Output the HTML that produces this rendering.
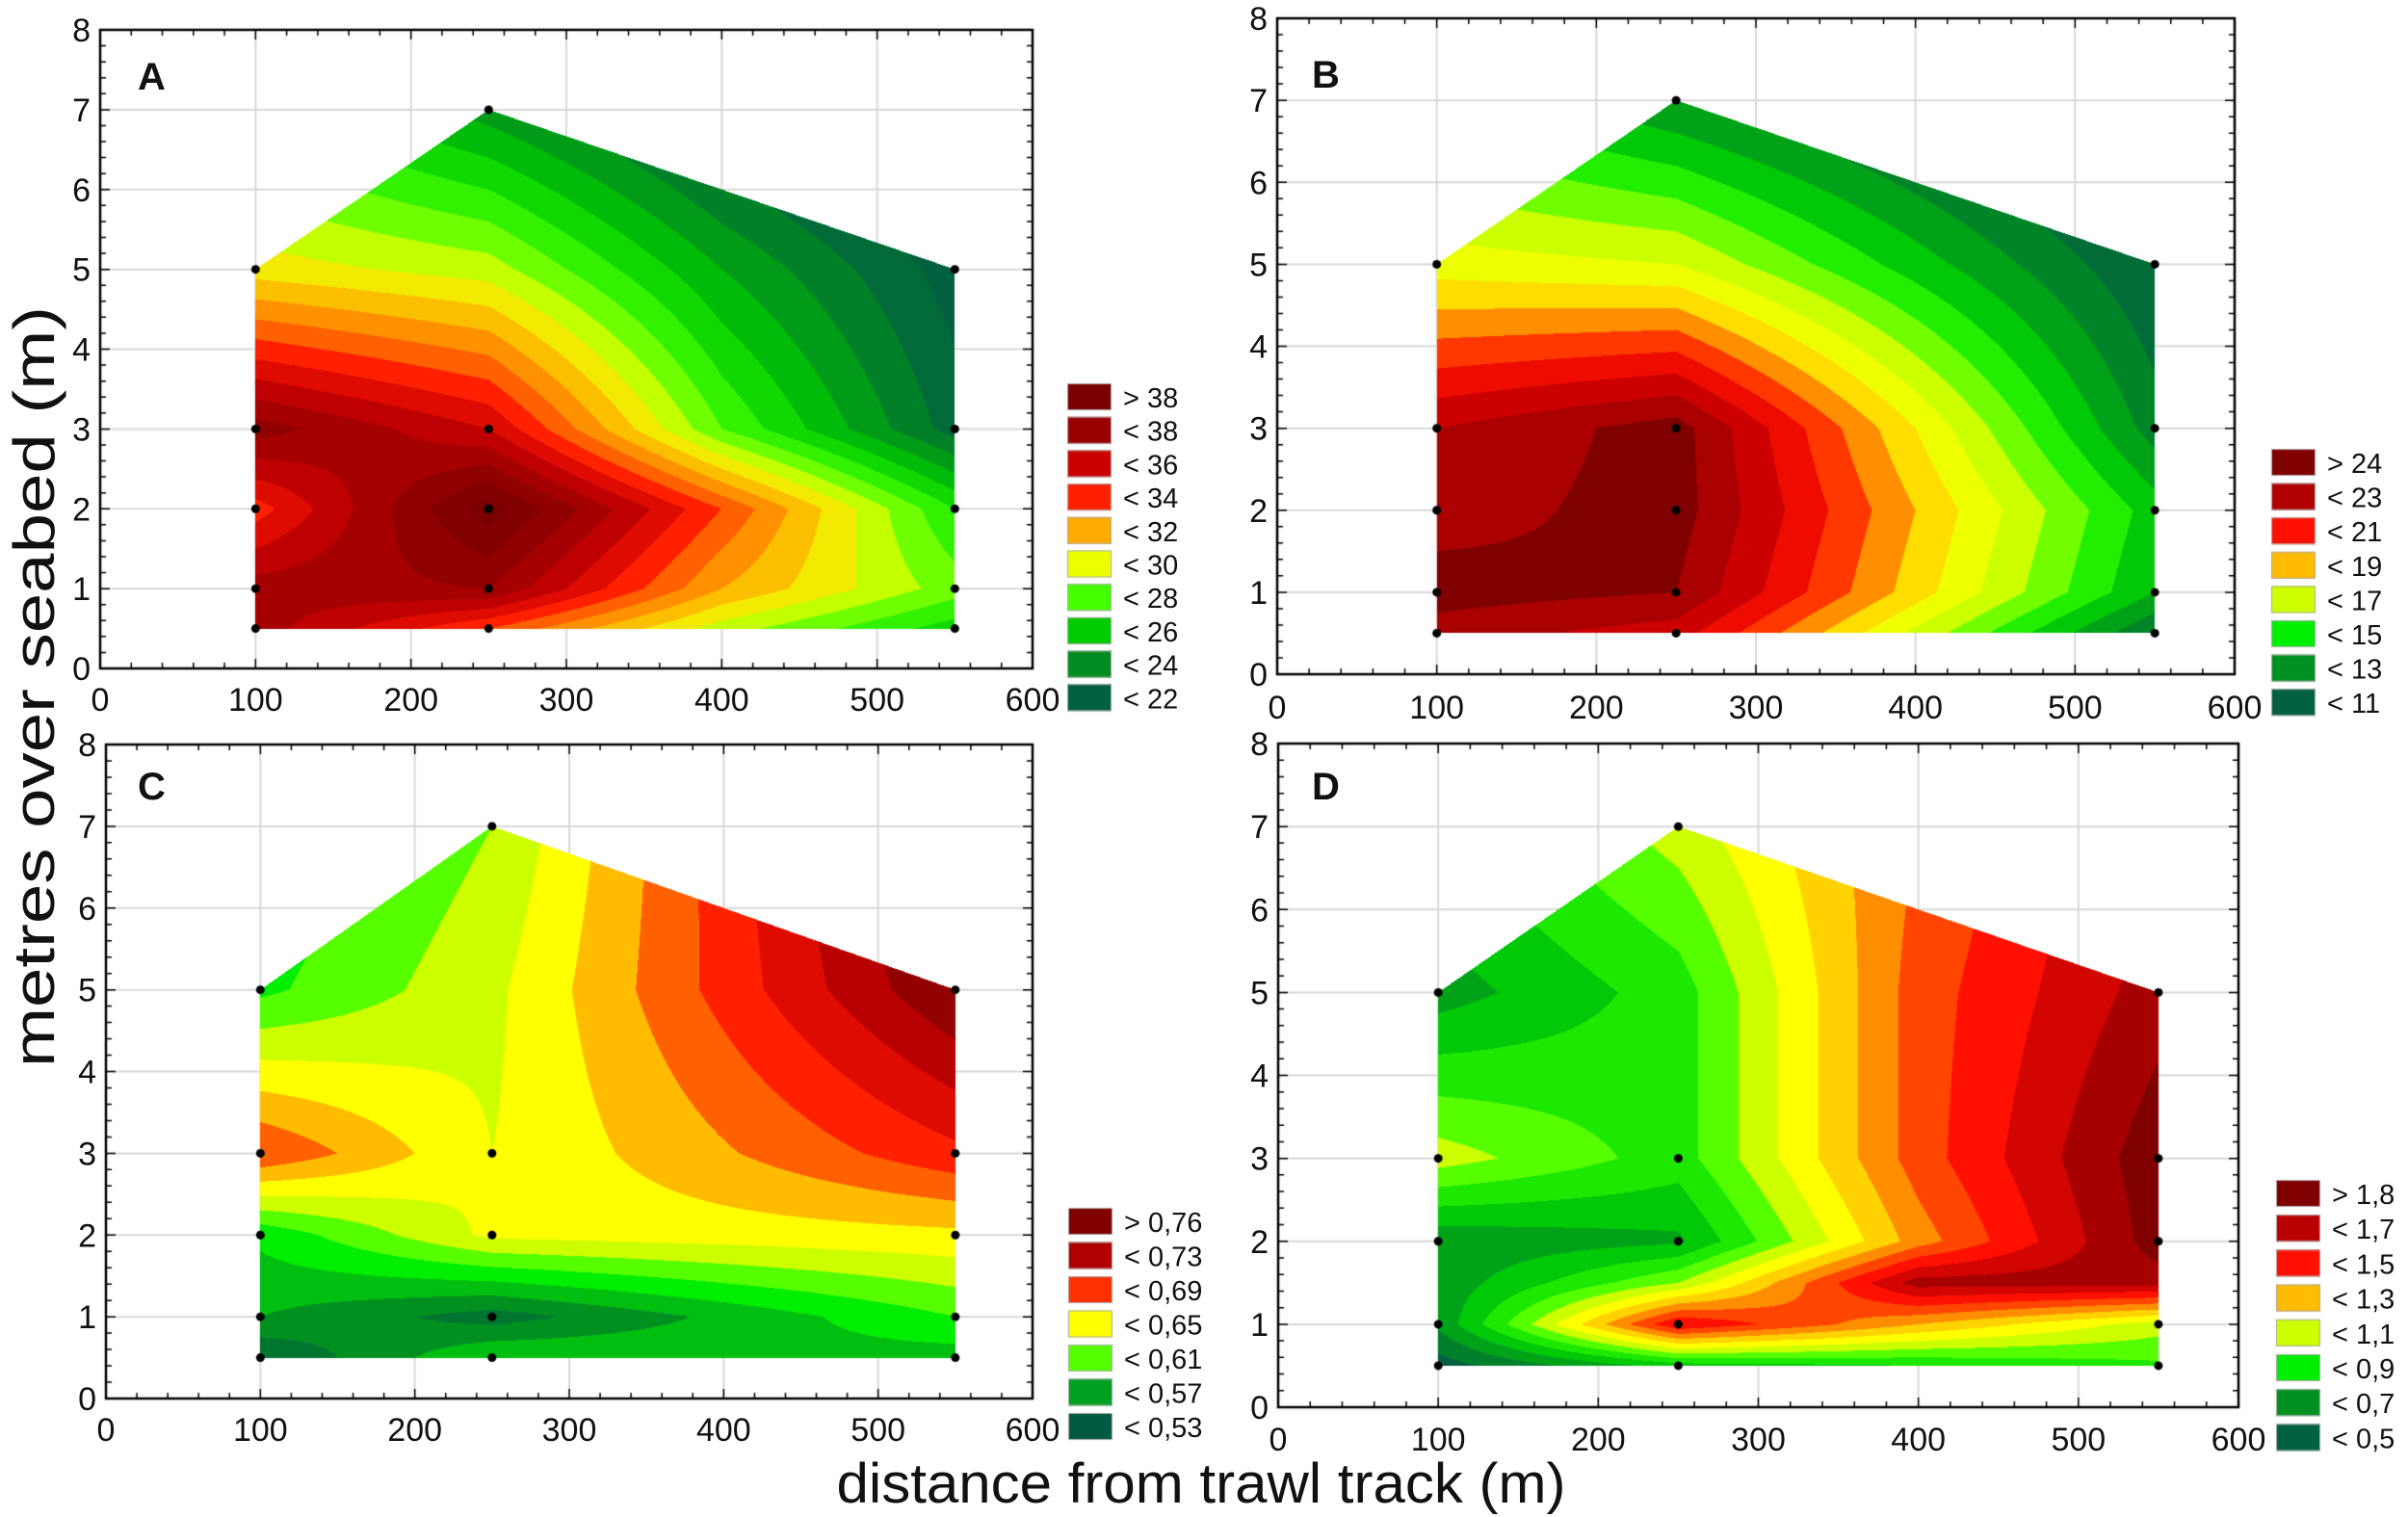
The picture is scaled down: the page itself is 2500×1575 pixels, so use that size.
<!DOCTYPE html>
<html><head><meta charset="utf-8">
<style>
html,body{margin:0;padding:0;background:#fff;}
#wrap{position:relative;width:2500px;height:1575px;overflow:hidden;}
canvas{position:absolute;left:0;top:0;}
svg{position:absolute;left:0;top:0;}
text{font-family:"Liberation Sans",sans-serif;fill:#111;}
</style></head>
<body><div id="wrap">
<canvas id="c" width="2500" height="1575"></canvas>
<svg width="2500" height="1575" viewBox="0 0 2500 1575" id="s">
<text x="0" y="0" transform="translate(56,713) rotate(-90)" text-anchor="middle" font-size="60" textLength="790" lengthAdjust="spacingAndGlyphs">metres over seabed (m)</text>
<text x="1247" y="1560" text-anchor="middle" font-size="58" textLength="757" lengthAdjust="spacingAndGlyphs">distance from trawl track (m)</text>
</svg>
</div>
<script>
function hex(c){return [parseInt(c.substr(1,2),16),parseInt(c.substr(3,2),16),parseInt(c.substr(5,2),16)];}
const panels=[
 {L:104,R:1072,T:31,B:694,letter:'A',lx:143,ly:93,
  X:[100,250,400,550],Y:[0.5,1,2,3,5,7],
  V:[[36.5,36.5,33.5,37.5,29.5,26],[33,37,39.5,35,28.5,23.5],[28.5,31,33,27,24,20.5],[25.5,27.5,26,21.5,20.5,18.5]],
  anchors:[[21,'#006040'],[23,'#008c20'],[25,'#00cc00'],[27,'#44ff00'],[29,'#eeff00'],[31,'#ffaa00'],[32.5,'#ff6000'],[33.5,'#ff2000'],[35,'#cc0000'],[37,'#990000'],[39,'#7a0000']],step:1,
  leg:{x:1108,y:398,p:34.7,items:[['> 38','#7a0000'],['< 38','#990000'],['< 36','#cc0000'],['< 34','#ff2000'],['< 32','#ffaa00'],['< 30','#eeff00'],['< 28','#44ff00'],['< 26','#00cc00'],['< 24','#008c20'],['< 22','#006040']]},xlab:44},
 {L:1326,R:2320,T:19,B:700,letter:'B',lx:1362,ly:91,
  X:[100,250,550],Y:[0.5,1,2,3,5,7],
  V:[[23.5,24.5,23.5,23,17.5,14],[22.5,24,24.5,24.5,17,12],[11,13,13.5,11.5,10,8]],
  anchors:[[10,'#006040'],[12,'#009020'],[14,'#00dd00'],[15,'#44ff00'],[16.5,'#ccff00'],[18,'#ffff00'],[19,'#ffbb00'],[20,'#ff6000'],[21,'#ff1000'],[22.5,'#cc0000'],[23.5,'#aa0000'],[24.5,'#800000']],step:1,
  leg:{x:2358,y:466,p:35.6,items:[['> 24','#800000'],['< 23','#b00000'],['< 21','#ff1000'],['< 19','#ffbb00'],['< 17','#ccff00'],['< 15','#00ee00'],['< 13','#009020'],['< 11','#006040']]},xlab:46},
 {L:110,R:1072,T:773,B:1452,letter:'C',lx:143,ly:830,
  X:[100,250,550],Y:[0.5,1,2,3,5,7],
  V:[[0.52,0.56,0.585,0.70,0.595,0.58],[0.58,0.53,0.645,0.64,0.635,0.62],[0.57,0.60,0.655,0.715,0.78,0.80]],
  anchors:[[0.51,'#005a40'],[0.55,'#009020'],[0.59,'#00ee00'],[0.61,'#55ff00'],[0.63,'#ccff00'],[0.65,'#ffff00'],[0.67,'#ffbb00'],[0.69,'#ff6000'],[0.71,'#ff2000'],[0.74,'#cc0000'],[0.78,'#800000']],step:0.02,
  leg:{x:1109,y:1254,p:35.5,items:[['> 0,76','#800000'],['< 0,73','#b00000'],['< 0,69','#ff3000'],['< 0,65','#ffff00'],['< 0,61','#55ff00'],['< 0,57','#00a020'],['< 0,53','#005a40']]},xlab:44},
 {L:1327,R:2324,T:772,B:1461,letter:'D',lx:1362,ly:830,
  X:[100,250,400,550],Y:[0.5,1,1.5,2,3,5,7],
  V:[[0.45,0.62,0.63,0.62,1.05,0.65,0.8],[0.75,1.6,1.0,0.68,0.85,0.85,1.05],[0.8,1.3,1.75,1.35,1.45,1.45,1.4],[0.88,1.05,1.75,1.85,1.87,1.75,1.7]],
  anchors:[[0.45,'#006040'],[0.6,'#009020'],[0.8,'#00dd00'],[0.95,'#55ff00'],[1.05,'#ccff00'],[1.15,'#ffff00'],[1.3,'#ffbb00'],[1.4,'#ff6000'],[1.55,'#ff1000'],[1.7,'#bb0000'],[1.85,'#800000']],step:0.1,
  leg:{x:2363,y:1225,p:36.2,items:[['> 1,8','#800000'],['< 1,7','#bb0000'],['< 1,5','#ff1000'],['< 1,3','#ffbb00'],['< 1,1','#ccff00'],['< 0,9','#00ee00'],['< 0,7','#009020'],['< 0,5','#006040']]},xlab:45}
];
const cv=document.getElementById('c'),ctx=cv.getContext('2d');
ctx.fillStyle='#fff';ctx.fillRect(0,0,2500,1575);
function px(p,x){return p.L+x/600*(p.R-p.L);}
function py(p,y){return p.B-y/8*(p.B-p.T);}
ctx.strokeStyle='#d9d9d9';ctx.lineWidth=2;
panels.forEach(p=>{
 for(let x=100;x<600;x+=100){ctx.beginPath();ctx.moveTo(px(p,x),p.T);ctx.lineTo(px(p,x),p.B);ctx.stroke();}
 for(let y=1;y<8;y++){ctx.beginPath();ctx.moveTo(p.L,py(p,y));ctx.lineTo(p.R,py(p,y));ctx.stroke();}
});
const img=ctx.getImageData(0,0,2500,1575),d=img.data;
function interp(p,x,y){
 const X=p.X,Y=p.Y;let i=0,j=0;
 while(i<X.length-2&&x>X[i+1])i++;
 while(j<Y.length-2&&y>Y[j+1])j++;
 const tx=Math.max(0,Math.min(1,(x-X[i])/(X[i+1]-X[i]))),ty=Math.max(0,Math.min(1,(y-Y[j])/(Y[j+1]-Y[j])));
 const a=p.V[i][j],b=p.V[i+1][j],c=p.V[i][j+1],e=p.V[i+1][j+1];
 return a*(1-tx)*(1-ty)+b*tx*(1-ty)+c*(1-tx)*ty+e*tx*ty;
}
function color(p,v){
 v=(Math.floor(v/p.step)+0.5)*p.step;
 const A=p.anchors;
 if(v<=A[0][0])return hex(A[0][1]);
 if(v>=A[A.length-1][0])return hex(A[A.length-1][1]);
 for(let k=0;k<A.length-1;k++){if(v<=A[k+1][0]){const t=(v-A[k][0])/(A[k+1][0]-A[k][0]);const c1=hex(A[k][1]),c2=hex(A[k+1][1]);return [0,1,2].map(q=>Math.round(c1[q]+(c2[q]-c1[q])*t));}}
}
panels.forEach(p=>{
 const x0=Math.floor(px(p,100)),x1=Math.ceil(px(p,550)),y0=Math.floor(py(p,7)),y1=Math.ceil(py(p,0.5));
 for(let Y=y0;Y<=y1;Y++)for(let X=x0;X<=x1;X++){
  const x=(X+0.5-p.L)/(p.R-p.L)*600,y=(p.B-(Y+0.5))/(p.B-p.T)*8;
  if(x<100||x>550||y<0.5)continue;
  const top=x<=250?5+(x-100)/150*2:7-(x-250)/300*2;
  if(y>top)continue;
  const c=color(p,interp(p,x,y));const o=(Y*2500+X)*4;d[o]=c[0];d[o+1]=c[1];d[o+2]=c[2];d[o+3]=255;
 }
});
ctx.putImageData(img,0,0);
const S=document.getElementById('s'),NS='http://www.w3.org/2000/svg';
function T(x,y,s,opt){const t=document.createElementNS(NS,'text');t.setAttribute('x',x);t.setAttribute('y',y);t.textContent=s;for(const k in opt)t.setAttribute(k,opt[k]);S.appendChild(t);}
panels.forEach(p=>{
 ctx.strokeStyle='#000';ctx.lineWidth=2.5;ctx.strokeRect(p.L,p.T,p.R-p.L,p.B-p.T);
 ctx.lineWidth=1.5;
 for(let x=0;x<=600;x+=20){const X=px(p,x),l=x%100==0?10:6;ctx.beginPath();ctx.moveTo(X,p.B);ctx.lineTo(X,p.B-l);ctx.moveTo(X,p.T);ctx.lineTo(X,p.T+l);ctx.stroke();}
 for(let y=0;y<=8;y+=0.2){const Y=py(p,y),l=Math.abs(y-Math.round(y))<0.01?10:6;ctx.beginPath();ctx.moveTo(p.L,Y);ctx.lineTo(p.L+l,Y);ctx.moveTo(p.R,Y);ctx.lineTo(p.R-l,Y);ctx.stroke();}
 ctx.fillStyle='#000';
 [[100,[0.5,1,2,3,5]],[250,[0.5,1,2,3,7]],[550,[0.5,1,2,3,5]]].forEach(([x,ys])=>ys.forEach(y=>{ctx.beginPath();ctx.arc(px(p,x),py(p,y),4.5,0,7);ctx.fill();}));
 const L=p.leg;
 L.items.forEach((it,k)=>{const y=L.y+k*L.p;ctx.fillStyle=it[1];ctx.fillRect(L.x,y,46,28);ctx.strokeStyle='#aaa';ctx.lineWidth=1;ctx.strokeRect(L.x+.5,y+.5,45,27);
  T(L.x+58,y+25,it[0],{'font-size':'29'});});
 for(let y=0;y<=8;y++)T(p.L-10,py(p,y)+12,String(y),{'font-size':'34','text-anchor':'end'});
 for(let x=0;x<=600;x+=100)T(px(p,x),p.B+p.xlab,String(x),{'font-size':'34','text-anchor':'middle'});
 T(p.lx,p.ly,p.letter,{'font-size':'40','font-weight':'bold'});
});
</script>
</body></html>
